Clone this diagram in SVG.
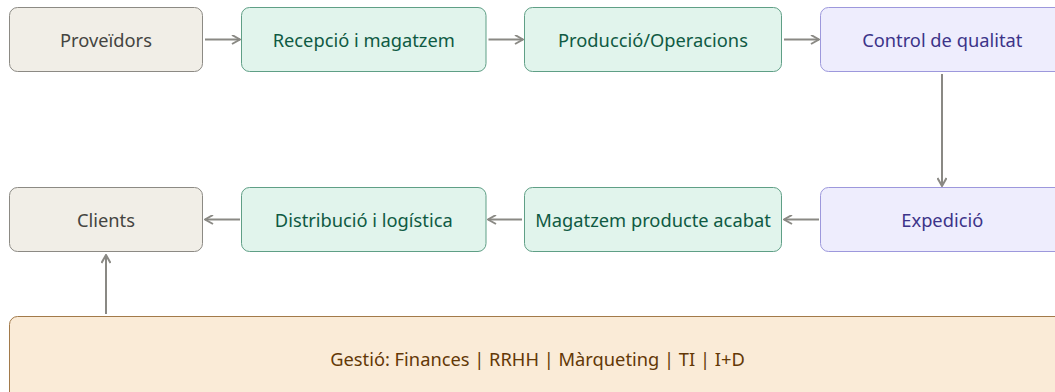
<svg xmlns="http://www.w3.org/2000/svg" width="1055" height="392" viewBox="0 0 1055 392">
<style>
.box{stroke-width:1}
.gray{fill:#f1eee7;stroke:#8c8a84}
.green{fill:#e1f4ec;stroke:#5f9f86}
.purple{fill:#eeedfd;stroke:#9d98dc}
.brown{fill:#faebd7;stroke:#a27a4a}
text{font-family:"Noto Sans","Open Sans",sans-serif;font-size:18.3px;font-weight:400;text-anchor:middle;dominant-baseline:central}
.tg{fill:#444441}
.tgr{fill:#0f5a43}
.tp{fill:#3c3489}
.tb{fill:#633806}
.edge{stroke:#8a8984;stroke-width:2;fill:none}
</style>
<defs>
<marker id="arr" viewBox="0 0 10 10" refX="9" refY="5" markerWidth="10" markerHeight="10" markerUnits="userSpaceOnUse" orient="auto">
<path d="M1,0.5 L9,5 L1,9.5" fill="none" stroke="#8a8984" stroke-width="2"/>
</marker>
</defs>
<g id="connectors">
<line class="edge" x1="205" y1="39.5" x2="240" y2="39.5" marker-end="url(#arr)"/>
<line class="edge" x1="488.5" y1="39.5" x2="523" y2="39.5" marker-end="url(#arr)"/>
<line class="edge" x1="784" y1="39.5" x2="819" y2="39.5" marker-end="url(#arr)"/>
<line class="edge" x1="942" y1="74" x2="942" y2="186" marker-end="url(#arr)"/>
<line class="edge" x1="819" y1="219.5" x2="784" y2="219.5" marker-end="url(#arr)"/>
<line class="edge" x1="522" y1="219.5" x2="488" y2="219.5" marker-end="url(#arr)"/>
<line class="edge" x1="240" y1="219.5" x2="205" y2="219.5" marker-end="url(#arr)"/>
<line class="edge" x1="106" y1="314" x2="106" y2="255" marker-end="url(#arr)"/>
</g>
<g id="proveidors"><rect class="box gray" x="9.5" y="7.5" width="193" height="64" rx="8"/><text class="tg" x="106" y="39.5">Proveïdors</text></g>
<g id="recepcio"><rect class="box green" x="241.5" y="7.5" width="244.5" height="64" rx="8"/><text class="tgr" x="363.75" y="39.5">Recepció i magatzem</text></g>
<g id="produccio"><rect class="box green" x="524.5" y="7.5" width="257" height="64" rx="8"/><text class="tgr" x="653" y="39.5">Producció/Operacions</text></g>
<g id="control"><rect class="box purple" x="820.5" y="7.5" width="243.5" height="64" rx="8"/><text class="tp" x="942.25" y="39.5">Control de qualitat</text></g>
<g id="expedicio"><rect class="box purple" x="820.5" y="187.5" width="243.5" height="64" rx="8"/><text class="tp" x="942.25" y="219.5">Expedició</text></g>
<g id="magatzem"><rect class="box green" x="524.5" y="187.5" width="257" height="64" rx="8"/><text class="tgr" x="653" y="219.5">Magatzem producte acabat</text></g>
<g id="distribucio"><rect class="box green" x="241.5" y="187.5" width="244.5" height="64" rx="8"/><text class="tgr" x="363.75" y="219.5">Distribució i logística</text></g>
<g id="clients"><rect class="box gray" x="9.5" y="187.5" width="193" height="64" rx="8"/><text class="tg" x="106" y="219.5">Clients</text></g>
<g id="gestio"><rect class="box brown" x="9.5" y="316.5" width="1056" height="84" rx="8"/><text class="tb" x="537.5" y="358">Gestió: Finances | RRHH | Màrqueting | TI | I+D</text></g>
</svg>
